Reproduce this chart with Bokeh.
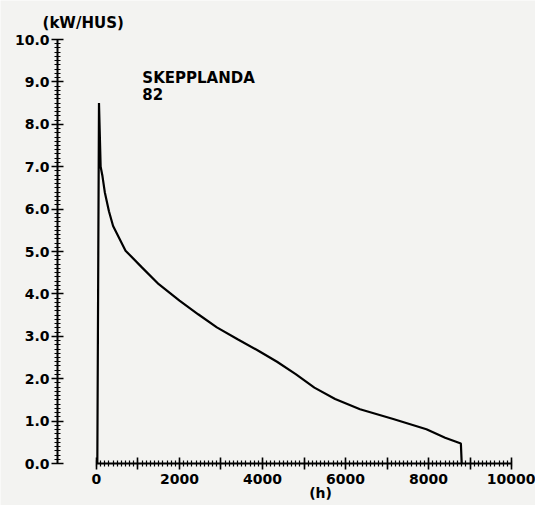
from bokeh.plotting import figure
from bokeh.models import Range1d, FixedTicker, Label, LinearAxis
from bokeh.embed import file_html
from bokeh.resources import INLINE

# data: load duration curve (hours, kW per house)
hours = [20, 60, 100, 140, 200, 300, 400, 700, 1100, 1500, 2000, 2450, 2900, 3400,
         3900, 4350, 4800, 5250, 5750, 6350, 7150, 7950, 8400, 8780, 8800]
load = [0.0, 8.5, 7.0, 6.8, 6.4, 5.95, 5.6, 5.02, 4.62, 4.23, 3.84, 3.52, 3.21, 2.93,
        2.66, 2.4, 2.11, 1.79, 1.52, 1.28, 1.05, 0.81, 0.61, 0.47, 0.0]

x_ticks = [0, 1000, 2000, 3000, 4000, 5000, 6000, 7000, 8000, 9000, 10000]
x_tick_labels = ["0", "", "2000", "", "4000", "", "6000", "", "8000", "", "10000"]
y_ticks = [0, 1, 2, 3, 4, 5, 6, 7, 8, 9, 10]
y_tick_labels = ["0.0", "1.0", "2.0", "3.0", "4.0", "5.0", "6.0", "7.0", "8.0", "9.0", "10.0"]
x_minor = list(range(0, 10001, 100))
y_minor = [i / 10 for i in range(0, 101)]

title_lines = ["SKEPPLANDA", "82"]
y_unit = "(kW/HUS)"
x_unit = "(h)"

FONT = "DejaVu Sans"
BG = "#f3f3f1"

p = figure(width=535, height=505, output_backend="svg", toolbar_location=None,
           x_range=Range1d(-2313, 10578), y_range=Range1d(-0.99, 10.92),
           x_axis_location=None, y_axis_location=None,
           min_border_left=0, min_border_right=0, min_border_top=0, min_border_bottom=0)
p.background_fill_color = BG
p.border_fill_color = BG
p.outline_line_color = None
p.grid.visible = False

p.line(hours, load, line_color="black", line_width=2.2)

xa = LinearAxis(fixed_location=0, bounds=(0, 10000),
                ticker=FixedTicker(ticks=x_ticks, minor_ticks=x_minor),
                major_label_overrides={t: l for t, l in zip(x_ticks, x_tick_labels)},
                major_label_standoff=4)
ya = LinearAxis(fixed_location=-940, bounds=(0, 10),
                ticker=FixedTicker(ticks=y_ticks, minor_ticks=y_minor),
                major_label_overrides={t: l for t, l in zip(y_ticks, y_tick_labels)},
                major_label_standoff=2)
for ax in (xa, ya):
    ax.axis_line_width = 2
    ax.major_tick_line_width = 1.6
    ax.minor_tick_line_width = 1.2
    ax.major_tick_in = 6
    ax.major_tick_out = 6
    ax.minor_tick_in = 3
    ax.minor_tick_out = 3
    ax.major_label_text_font = FONT
    ax.major_label_text_font_style = "bold"
    ax.major_label_text_font_size = "14px"
    ax.major_label_text_color = "black"
p.add_layout(xa, "below")
p.add_layout(ya, "left")

p.add_layout(Label(x=-1300, y=10.40, text=y_unit, text_font=FONT, text_font_style="bold",
                   text_font_size="15px", text_baseline="middle", text_color="black"))
p.add_layout(Label(x=5400, y=-0.70, text=x_unit, text_font=FONT, text_font_style="bold",
                   text_font_size="14px", text_baseline="middle", text_align="center",
                   text_color="black"))
for i, t in enumerate(title_lines):
    p.add_layout(Label(x=1105, y=9.3 - i * 0.44, text=t, text_font=FONT, text_font_style="bold",
                       text_font_size="15px", text_baseline="top", text_color="black"))

open("out.html", "w").write(file_html(p, INLINE))
